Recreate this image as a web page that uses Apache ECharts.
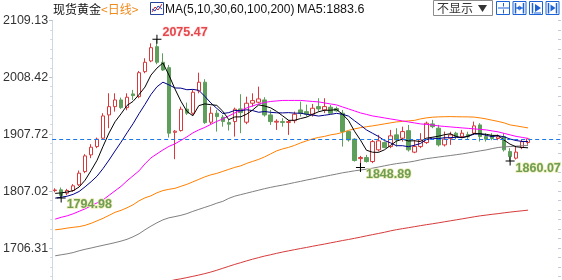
<!DOCTYPE html>
<html><head><meta charset="utf-8">
<script src="https://cdn.jsdelivr.net/npm/echarts/dist/echarts.min.js"></script>
<style>html,body{margin:0;padding:0;background:#fff;overflow:hidden}#c{width:562px;height:305px}</style>
</head><body><div id="c"></div>
<script>
// ---- data ----
const opens = [1808,1809.3,1803.4,1808.1,1818.1,1841.6,1871.1,1885.8,1900.6,1941.8, 1956.4,1968.3,1954.7,1978.9,1974.1,2018.3,2037.2,2062.5,2034.9,2025.4, 1911,1914.1,1951.9,1944.8,1984.2,1999.6,1928.9,1944.8,1937.7,1928.2, 1930,1952.4,1928.9,1962.5,1964.2,1968.3,1941.8,1929,1930,1928.5, 1931.7,1950.6,1947.6,1943,1956.5,1950.6,1955.4,1953,1944.8,1912.3, 1898.9,1864.5,1866.4,1859.3,1880,1892.9,1885.8,1906.5,1900.6,1914, 1875.9,1885.8,1892.9,1925.9,1918.3,1888.8,1900.6,1909.5,1903.5,1907, 1909.5,1924.1,1903.5,1905,1900,1903.5,1877,1865.3,1884,1892.9];
const closes = [1809,1799.2,1808.1,1816.4,1838.8,1869.3,1884.7,1898.9,1940,1956.4, 1968.3,1954.7,1973.1,1975.9,2016.5,2034.9,2060.7,2034.9,2021.3,1909.5, 1913,1951.9,1944.8,1981.9,1999.6,1928.2,1944.8,1938.8,1930,1925.4, 1951.9,1945.9,1962.5,1967.1,1970.1,1941.8,1930,1930.5,1928.5,1930, 1943,1944.8,1943,1953.6,1952.4,1956.5,1944.8,1949,1912.3,1897.6, 1861.1,1866.5,1859.3,1894.6,1895.9,1884,1904.7,1897.6,1912.3,1880, 1885.8,1897.6,1927.1,1921,1888.8,1898.9,1906.5,1903.5,1909.5,1903, 1922.4,1903.5,1898.9,1900,1903,1880,1868.1,1876,1894.6,1899.4];
const lows = [1805,1794.98,1800,1806,1816,1838.8,1865.3,1883,1897.6,1918.3, 1947.6,1952.4,1950,1968.3,1971.3,2015.5,2035,2031.4,2019.5,1901.7, 1863.5,1912.3,1941.8,1941.8,1980,1925.9,1925.4,1912.3,1921,1914.1, 1903.5,1909.5,1925.4,1956.5,1962.5,1938.8,1924.1,1915.3,1921,1906.5, 1927.1,1938.8,1938.8,1938.8,1947.6,1945,1944,1947.6,1885.8,1894.6, 1859.3,1848.89,1857.6,1856.5,1877,1883,1883,1885.8,1894.6,1877, 1874.1,1883,1890.5,1918.3,1885.8,1886,1888.8,1898.9,1900.6,1898, 1906.5,1894.6,1894.6,1897,1897,1877,1860.07,1863,1881.2,1889];
const highs = [1812,1813.4,1811,1819.4,1843.4,1872.4,1890,1901.7,1944.8,1980.1, 1980,1972.4,1980,1986,2019.5,2042,2068.5,2075.47,2050.8,2030.2, 1915,1956.5,1963.6,1986,2016.5,2004.9,1956.5,1950.6,1941.8,1934.2, 1954.7,1978.4,1974.1,1980,1991.8,1973.1,1950.6,1934,1936,1933, 1947.6,1965.3,1960,1961.2,1971.3,1971.3,1959.5,1956.5,1950.6,1912.3, 1900.6,1869.3,1871.1,1897.6,1906.5,1894.6,1915.3,1918.3,1921,1924, 1897.6,1909.5,1930,1933,1924.1,1912.3,1912,1912,1915.3,1912, 1930,1927.1,1909.5,1909.5,1907,1909.5,1883,1885.8,1897.6,1900.6];
// closes before the visible window (estimated from where MA5/MA10 start)
const priorCloses = [1783,1790,1784,1788,1786,1795,1800,1805,1806];
const ma30 = [1757.5,1760.7,1763.3,1766.9,1771.3,1775.7,1781.0,1786.3,1791.6,1799.6, 1807.5,1815.4,1825.2,1834.0,1842.8,1855.2,1865.8,1872.9,1879.9,1886.1, 1890.6,1896.7,1902.9,1910.0,1915.3,1919.7,1925.0,1930.3,1934.7,1940.0, 1945.3,1949.7,1954.2,1957.7,1961.2,1963.9,1965.6,1966.5,1967.4,1967.4, 1967.4,1967.4,1966.5,1965.6,1964.8,1963.0,1961.2,1959.5,1955.9,1952.4, 1948.9,1945.3,1942.7,1940.0,1938.3,1936.5,1934.7,1933.0,1931.2,1929.4, 1927.7,1925.9,1925.0,1924.1,1922.4,1921.5,1920.6,1919.7,1918.8,1918.0, 1917.1,1916.2,1915.3,1913.5,1911.8,1909.1,1906.5,1903.8,1902.1,1900.3];
const ma60 = [1738.6,1739.8,1741.6,1743.0,1744.2,1746.5,1750.1,1754.5,1758.9,1764.2, 1769.5,1773.0,1777.5,1782.8,1789.8,1795.1,1798.7,1804.0,1808.0,1810.2, 1811.9,1815.5,1819.0,1823.4,1827.8,1832.2,1835.8,1838.4,1841.9,1845.5, 1849.0,1851.7,1856.1,1859.6,1863.2,1867.6,1872.9,1878.2,1881.7,1884.4, 1887.9,1892.3,1895.9,1899.4,1902.0,1903.8,1906.5,1908.2,1910.9,1914.4, 1917.1,1919.2,1920.9,1922.4,1924.1,1925.9,1927.7,1929.4,1930.3,1931.2, 1932.1,1934.7,1936.5,1937.7,1938.3,1938.6,1938.8,1938.6,1938.4,1938.3, 1937.9,1936.5,1934.7,1932.4,1930.3,1927.7,1924.1,1922.4,1920.6,1918.8];
const ma100 = [1692.6,1694.4,1696.1,1698.3,1701.5,1704.1,1706.4,1708.9,1711.2,1713.5, 1715.9,1718.6,1721.8,1726.2,1731.5,1738.6,1745.1,1751.0,1756.2,1759.8, 1761.9,1764.2,1767.2,1771.2,1774.8,1778.3,1781.8,1785.7,1788.9,1794.2, 1798.1,1800.8,1803.4,1806.1,1808.7,1811.4,1813.7,1815.8,1817.7,1819.9, 1822.2,1824.3,1826.6,1828.7,1830.9,1833.0,1835.1,1837.2,1839.4,1841.1, 1842.9,1844.3,1845.9,1847.6,1849.6,1851.7,1853.8,1855.6,1857.0,1858.2, 1860.0,1862.3,1864.4,1865.8,1867.2,1868.6,1870.0,1871.4,1872.9,1874.6, 1876.4,1878.2,1879.9,1882.2,1884.2,1885.2,1885.9,1886.6,1887.1,1887.8];
const ma200 = [1583.1,1586.6,1589.3,1591.9,1595.5,1599.0,1602.5,1606.1,1609.6,1613.1, 1616.7,1620.2,1623.7,1627.3,1630.8,1634.3,1637.9,1641.4,1644.9,1647.6, 1650.2,1651.9,1654.1,1656.3,1658.6,1661.1,1663.9,1667.1,1670.5,1674.0, 1677.4,1680.5,1683.7,1686.7,1689.5,1692.2,1694.5,1697.0,1699.3,1701.4, 1703.5,1705.5,1707.4,1709.5,1711.5,1713.4,1715.5,1717.5,1719.6,1721.5, 1723.5,1725.6,1727.9,1730.0,1732.1,1734.2,1736.7,1738.8,1740.6,1742.3, 1744.1,1745.9,1747.6,1749.2,1750.9,1752.7,1754.5,1756.2,1758.0,1759.8, 1761.6,1763.3,1764.6,1766.0,1767.2,1768.6,1769.9,1771.1,1772.2,1773.4];
const tickValues = [1706.31,1807.02,1907.72,2008.42,2109.13];
const tickLabels = ['1706.31','1807.02','1907.72','2008.42','2109.13'];
const extremes = [[17,2075.47,'high'],[1,1794.98,'low'],[51,1848.89,'low'],[76,1860.07,'low']];
const emptySlots = 5;
const categories = [];
for (let i = 0; i < opens.length + emptySlots; i++) categories.push('D' + (i + 1));

// ---- build ----
const candles = opens.map((o, i) => [o, closes[i], lows[i], highs[i]]);
function movingAvg(n) {
  const all = priorCloses.concat(closes);
  return closes.map((_, i) => {
    const j = i + priorCloses.length;
    if (j + 1 < n) return null;
    let s = 0;
    for (let k = j - n + 1; k <= j; k++) s += all[k];
    return +(s / n).toFixed(2);
  });
}
const ma5 = movingAvg(5), ma10 = movingAvg(10);
const yStep = (tickValues[4] - tickValues[0]) / 4;
const yMin = tickValues[0] - yStep, yMax = tickValues[4];
const lastClose = closes[closes.length - 1];

const chart = echarts.init(document.getElementById('c'), null, {renderer: 'canvas'});
const green = '#5f9f5c', red = '#d8393c';
const lineS = (name, data, color) => ({
  name, type: 'line', data, symbol: 'none', silent: true, smooth: false,
  lineStyle: {color, width: 1}, itemStyle: {color}, z: 3
});
const blue = '#1d63d6';
const G = [];
const txt = (x, y, text, font, fill) => G.push({type: 'text', x, y, silent: true,
  style: {text, font, fill, verticalAlign: 'middle', align: 'left'}});
txt(53, 9, '现货黄金', '12px "Noto Sans CJK SC"', '#111');
txt(101, 9, '<日线>', '12px "Noto Sans CJK SC"', '#f08a1c');
// MA icon
G.push({type: 'rect', shape: {x: 150.5, y: 2.5, width: 13, height: 12}, style: {fill: '#fff', stroke: '#27439a', lineWidth: 1}});
G.push({type: 'polyline', shape: {points: [[152, 12], [155, 7], [158, 10], [162, 4]]}, style: {fill: null, stroke: '#d02020', lineWidth: 1}});
G.push({type: 'polyline', shape: {points: [[152, 9], [155, 11], [158, 6], [162, 9]]}, style: {fill: null, stroke: '#2040c0', lineWidth: 1}});
txt(165, 9.5, 'MA(5,10,30,60,100,200)', '12px "Liberation Sans"', '#111');
txt(297, 9.5, 'MA5:' + ma5[ma5.length - 1].toFixed(1), '12.5px "Liberation Sans"', '#111');
// 不显示 button
G.push({type: 'rect', shape: {x: 433.5, y: 0.5, width: 59, height: 15}, style: {fill: '#fff', stroke: '#8c8c8c', lineWidth: 1}});
txt(437, 8.5, '不显示', '12px "Noto Sans CJK SC"', '#333');
G.push({type: 'polygon', shape: {points: [[478, 5], [487, 5], [482.5, 12]]}, style: {fill: '#333'}});
// 4 blue icons
const ix = [496.5, 513, 529.5, 546];
ix.forEach(x => G.push({type: 'rect', shape: {x, y: 1.5, width: 13, height: 13}, style: {fill: '#fff', stroke: blue, lineWidth: 1}}));
const ln = (x1, y1, x2, y2, w) => G.push({type: 'line', shape: {x1, y1, x2, y2}, style: {stroke: blue, lineWidth: w || 1}});
ln(498, 8, 502, 8); ln(505, 8, 509, 8); ln(503.5, 3, 503.5, 6.5); ln(503.5, 9.5, 503.5, 13.5); ln(502, 8, 505, 8);
ln(515.5, 3, 515.5, 13.5, 1.5); ln(523.5, 3, 523.5, 13.5, 1.5); ln(516, 8, 523, 8);
G.push({type: 'polygon', shape: {points: [[517, 8], [519.5, 5.5], [519.5, 10.5]]}, style: {fill: blue}});
G.push({type: 'polygon', shape: {points: [[522, 8], [519.5, 5.5], [519.5, 10.5]]}, style: {fill: blue}});
ln(532.5, 3, 532.5, 13.5, 1.5); ln(534, 13, 541, 13);
G.push({type: 'polygon', shape: {points: [[535, 4], [541, 8], [535, 12]]}, style: {fill: blue}});
ln(548.5, 3, 548.5, 13.5, 1.5); ln(556.5, 3, 556.5, 13.5, 1.5);
G.push({type: 'polygon', shape: {points: [[550.5, 4.5], [555.5, 8], [550.5, 11.5]]}, style: {fill: blue}});

const cross = 'path://M0,4H9V5H0Z M4,0H5V9H4Z';
const option = {
  animation: false,
  backgroundColor: '#fff',
  grid: {left: 52, right: 1, top: 20.3, bottom: 0},
  xAxis: {type: 'category', data: categories, boundaryGap: true, show: false},
  yAxis: [{
    type: 'value', position: 'left', min: yMin, max: yMax, interval: yStep, scale: true,
    axisLine: {show: true, lineStyle: {color: '#cfd8e2'}},
    axisTick: {show: true, length: 3, lineStyle: {color: '#b7c3cf'}},
    minorTick: {show: true, splitNumber: 6, length: 2, lineStyle: {color: '#cfd8e2'}},
    splitLine: {show: false},
    axisLabel: {margin: 4, color: '#333', fontSize: 12.5, fontFamily: 'Liberation Sans',
      formatter: v => { for (let k = 0; k < tickValues.length; k++) if (Math.abs(v - tickValues[k]) < 0.5) return tickLabels[k]; return ''; }}
  }, {
    type: 'value', position: 'right', min: yMin, max: yMax, interval: yStep, scale: true,
    axisLine: {show: false}, axisLabel: {show: false}, splitLine: {show: false},
    axisTick: {show: true, inside: true, length: 3, lineStyle: {color: '#c3ccd6'}},
    minorTick: {show: true, splitNumber: 6, length: 3, lineStyle: {color: '#c3ccd6'}}
  }],
  graphic: G,
  series: [{
    type: 'candlestick', data: candles, barWidth: 4, z: 2,
    itemStyle: {color: '#ffffff', color0: green, borderColor: red, borderColor0: green, borderWidth: 1},
    markLine: {silent: true, symbol: ['none', 'none'], label: {show: false},
      lineStyle: {color: '#1a78ea', type: [4, 3], width: 1}, data: [{yAxis: lastClose}]},
    markPoint: {
      silent: true, symbol: cross, symbolSize: 9, itemStyle: {color: '#000'},
      data: extremes.map(e => ({
        coord: [e[0], e[1]], value: e[1],
        label: {show: true, formatter: p => p.value.toFixed(2), position: e[2] === 'high' ? [10, -2] : [10, 11.5],
          align: 'left', verticalAlign: 'middle', fontSize: 12.5, fontWeight: 'bold', fontFamily: 'Liberation Sans',
          color: e[2] === 'high' ? '#e4484c' : '#6f9d58',
          textBorderColor: e[2] === 'high' ? 'rgba(255,230,230,0.9)' : 'rgba(235,235,170,0.9)', textBorderWidth: 1.5}
      }))
    }
  },
    lineS('MA200', ma200, '#d63a3a'),
    lineS('MA100', ma100, '#808080'),
    lineS('MA60', ma60, '#ff8000'),
    lineS('MA30', ma30, '#ff00ff'),
    lineS('MA10', ma10, '#00008b'),
    lineS('MA5', ma5, '#000000')
  ]
};
chart.setOption(option);
</script></body></html>
